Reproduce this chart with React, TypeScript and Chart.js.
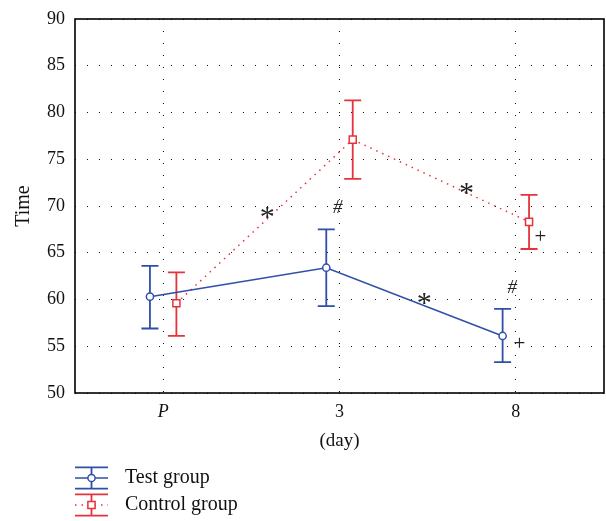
import React, { useEffect, useRef } from 'react';
import { Chart, registerables } from 'chart.js';

Chart.register(...registerables);

const categories = ['P', '3', '8'];
const yMin = 50;
const yMax = 90;
const yStep = 5;

const testMean = [60.3, 63.4, 56.1];
const testUpper = [63.6, 67.5, 59.0];
const testLower = [56.9, 59.3, 53.3];

const controlMean = [59.6, 77.1, 68.3];
const controlUpper = [62.9, 81.3, 71.2];
const controlLower = [56.1, 72.9, 65.4];

const testOffset = -0.075;
const controlOffset = 0.075;

const annotations = [
  { text: '*', x: 0.59, y: 69.3, kind: 'star' },
  { text: '#', x: 0.99, y: 69.9, kind: 'hash' },
  { text: '*', x: 1.72, y: 71.9, kind: 'star' },
  { text: '*', x: 1.48, y: 60.1, kind: 'star' },
  { text: '#', x: 1.98, y: 61.4, kind: 'hash' },
  { text: '+', x: 2.14, y: 66.8, kind: 'plus' },
  { text: '+', x: 2.02, y: 55.45, kind: 'plus' },
];

const BLUE = '#2f4fa8';
const RED = '#e8323a';
const FONT = '"Liberation Serif", "Times New Roman", serif';

export default function App() {
  const ref = useRef<HTMLCanvasElement>(null);

  useEffect(() => {
    document.body.style.margin = '0';
    const canvas = ref.current;
    if (!canvas) return;

    const drawErr = (chart: any, lo: number[], hi: number[], off: number, color: string) => {
      const { ctx, scales } = chart;
      const x = scales.x;
      const y = scales.y;
      ctx.save();
      ctx.strokeStyle = color;
      ctx.lineWidth = 1.8;
      ctx.setLineDash([]);
      for (let i = 0; i < lo.length; i++) {
        const px = x.getPixelForValue(i + off);
        const pl = y.getPixelForValue(lo[i]);
        const ph = y.getPixelForValue(hi[i]);
        ctx.beginPath();
        ctx.moveTo(px, pl);
        ctx.lineTo(px, ph);
        ctx.moveTo(px - 8.5, pl);
        ctx.lineTo(px + 8.5, pl);
        ctx.moveTo(px - 8.5, ph);
        ctx.lineTo(px + 8.5, ph);
        ctx.stroke();
      }
      ctx.restore();
    };

    const errorBars = {
      id: 'errorBars',
      beforeDatasetsDraw(chart: any) {
        drawErr(chart, controlLower, controlUpper, controlOffset, RED);
        drawErr(chart, testLower, testUpper, testOffset, BLUE);
      },
    };

    const frameAndNotes = {
      id: 'frameAndNotes',
      afterDraw(chart: any) {
        const { ctx, chartArea, scales } = chart;
        ctx.save();
        ctx.strokeStyle = '#000';
        ctx.lineWidth = 1.6;
        ctx.setLineDash([]);
        ctx.strokeRect(chartArea.left, chartArea.top, chartArea.right - chartArea.left, chartArea.bottom - chartArea.top);

        // annotations
        ctx.fillStyle = '#222';
        ctx.textAlign = 'center';
        ctx.textBaseline = 'alphabetic';
        annotations.forEach((a) => {
          if (a.kind === 'star') ctx.font = `30px ${FONT}`;
          else if (a.kind === 'hash') ctx.font = `italic 19px ${FONT}`;
          else ctx.font = `21px ${FONT}`;
          const m = ctx.measureText(a.text);
          const px = scales.x.getPixelForValue(a.x);
          const py = scales.y.getPixelForValue(a.y);
          const asc = m.actualBoundingBoxAscent;
          const desc = m.actualBoundingBoxDescent;
          ctx.fillText(a.text, px, py + (asc - desc) / 2);
        });

        // legend
        const ds = chart.data.datasets;
        const items = [
          { label: ds[0].label, color: BLUE, cy: 478, dotted: false, square: false },
          { label: ds[1].label, color: RED, cy: 505, dotted: true, square: true },
        ];
        const x0 = 75;
        const x1 = 108;
        const xm = (x0 + x1) / 2;
        items.forEach((it) => {
          ctx.strokeStyle = it.color;
          ctx.lineWidth = 1.8;
          ctx.setLineDash([]);
          ctx.beginPath();
          ctx.moveTo(x0, it.cy - 10.7);
          ctx.lineTo(x1, it.cy - 10.7);
          ctx.moveTo(x0, it.cy + 10.7);
          ctx.lineTo(x1, it.cy + 10.7);
          ctx.moveTo(xm, it.cy - 10.7);
          ctx.lineTo(xm, it.cy + 10.7);
          ctx.stroke();
          ctx.lineWidth = 1.5;
          if (it.dotted) ctx.setLineDash([1.5, 5]);
          ctx.beginPath();
          ctx.moveTo(x0, it.cy);
          ctx.lineTo(x1, it.cy);
          ctx.stroke();
          ctx.setLineDash([]);
          ctx.fillStyle = '#fff';
          ctx.beginPath();
          if (it.square) {
            ctx.rect(xm - 3.6, it.cy - 3.6, 7.2, 7.2);
          } else {
            ctx.arc(xm, it.cy, 3.6, 0, Math.PI * 2);
          }
          ctx.fill();
          ctx.stroke();
          ctx.fillStyle = '#111';
          ctx.font = `20px ${FONT}`;
          ctx.textAlign = 'left';
          ctx.textBaseline = 'middle';
          ctx.fillText(it.label, 125, it.cy);
        });
        ctx.restore();
      },
    };

    const yTickValues: number[] = [];
    for (let v = yMin; v <= yMax; v += yStep) yTickValues.push(v);

    const chart = new Chart(canvas, {
      type: 'line',
      data: {
        datasets: [
          {
            label: 'Test group',
            data: testMean.map((v, i) => ({ x: i + testOffset, y: v })),
            borderColor: BLUE,
            backgroundColor: '#fff',
            borderWidth: 1.6,
            pointStyle: 'circle',
            pointRadius: 3.6,
            pointBorderWidth: 1.5,
            pointBorderColor: BLUE,
            pointBackgroundColor: '#fff',
            tension: 0,
          },
          {
            label: 'Control group',
            data: controlMean.map((v, i) => ({ x: i + controlOffset, y: v })),
            borderColor: RED,
            backgroundColor: '#fff',
            borderWidth: 1.5,
            borderDash: [1.5, 5],
            pointStyle: 'rect',
            pointRadius: 5,
            pointBorderWidth: 1.5,
            pointBorderColor: RED,
            pointBackgroundColor: '#fff',
            tension: 0,
          },
        ],
      },
      options: {
        responsive: false,
        animation: false,
        layout: { autoPadding: false, padding: { top: 19, right: 2, left: 0, bottom: 0 } },
        plugins: {
          legend: { display: false },
          tooltip: { enabled: false },
        },
        scales: {
          x: {
            type: 'linear',
            min: -0.5,
            max: categories.length - 0.5,
            afterBuildTicks(scale: any) {
              scale.ticks = categories.map((_, i) => ({ value: i }));
            },
            afterFit(scale: any) {
              scale.height = 128;
              scale.paddingLeft = 0;
              scale.paddingRight = 0;
            },
            ticks: {
              padding: 8,
              color: '#111',
              font: (ctx: any) => ({
                family: FONT,
                size: 18,
                style: ctx.tick && ctx.tick.value === 0 ? 'italic' : 'normal',
              }),
              callback: (v: any) => categories[Math.round(Number(v))] ?? '',
            },
            grid: { drawTicks: false, color: '#111', lineWidth: 1 },
            border: { display: false, dash: [1, 11] },
            title: {
              display: true,
              text: '(day)',
              color: '#111',
              font: { family: FONT, size: 19 },
              padding: { top: 0, bottom: 69 },
            },
          },
          y: {
            type: 'linear',
            min: yMin,
            max: yMax,
            afterBuildTicks(scale: any) {
              scale.ticks = yTickValues.map((v) => ({ value: v }));
            },
            afterFit(scale: any) {
              scale.width = 75;
              scale.paddingTop = 0;
              scale.paddingBottom = 0;
            },
            ticks: {
              padding: 10,
              color: '#111',
              font: { family: FONT, size: 18 },
            },
            grid: { drawTicks: false, color: '#111', lineWidth: 1 },
            border: { display: false, dash: [1, 11] },
            title: {
              display: true,
              text: 'Time',
              color: '#111',
              font: { family: FONT, size: 20 },
              padding: { top: 12, bottom: 0 },
            },
          },
        },
      },
      plugins: [errorBars, frameAndNotes],
    });

    return () => chart.destroy();
  }, []);

  return (
    <div style={{ width: 606, height: 521, position: 'relative' }}>
      <canvas ref={ref} width={606} height={521} style={{ display: 'block' }} />
    </div>
  );
}
